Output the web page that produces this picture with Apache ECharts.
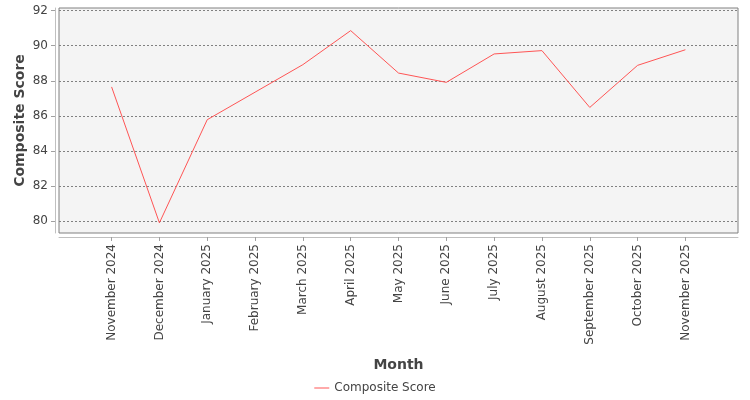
<!DOCTYPE html>
<html>
<head>
<meta charset="utf-8">
<script src="https://cdn.jsdelivr.net/npm/echarts@6/dist/echarts.min.js"></script>
<style>html,body{margin:0;padding:0;background:#fff;}#c{width:750px;height:400px;}</style>
</head>
<body>
<div id="c"></div>
<script>
const months = ["November 2024","December 2024","January 2025","February 2025","March 2025","April 2025","May 2025","June 2025","July 2025","August 2025","September 2025","October 2025","November 2025"];
const scores = [87.65, 79.9, 85.78, 87.35, 88.92, 90.86, 88.44, 87.91, 89.53, 89.72, 86.48, 88.88, 89.77];
const yTicks = [80, 82, 84, 86, 88, 90, 92];
const seriesName = "Composite Score";

const idx = months.map((m, i) => i);
const chart = echarts.init(document.getElementById('c'), null, {renderer: 'canvas'});
const font = 'DejaVu Sans';
chart.setOption({
  animation: false,
  backgroundColor: '#ffffff',
  textStyle: {fontFamily: font},
  grid: {left: 59, right: 12, top: 8, bottom: 167, show: true, backgroundColor: '#f4f4f4', borderColor: '#808080', borderWidth: 1},
  legend: {
    bottom: 1, left: 'center', itemWidth: 15, itemHeight: 10, itemGap: 10,
    textStyle: {fontFamily: font, fontSize: 12, color: '#444'},
    data: [{name: seriesName, icon: 'path://M0,5 L15,5 L15,6 L0,6 Z'}]
  },
  xAxis: {
    type: 'value', min: -1.1, max: 13.1,
    offset: 4,
    name: 'Month', nameLocation: 'middle', nameGap: 121, nameMoveOverlap: false,
    nameTextStyle: {fontFamily: font, fontSize: 14, fontWeight: 'bold', color: '#444'},
    axisLine: {show: true, onZero: false, lineStyle: {color: '#c0c0c0'}},
    axisTick: {show: true, length: 4, lineStyle: {color: '#a0a0a0'}, customValues: idx},
    axisLabel: {rotate: 90, margin: 7, fontSize: 12, color: '#444', fontFamily: font,
      customValues: idx, formatter: v => months[Math.round(v)] || ''},
    splitLine: {show: false}
  },
  yAxis: {
    type: 'value', min: 79.32, max: 92.15, splitNumber: 6,
    offset: 4,
    name: 'Composite Score', nameLocation: 'middle', nameGap: 28, nameMoveOverlap: false,
    nameTextStyle: {fontFamily: font, fontSize: 14, fontWeight: 'bold', color: '#444'},
    axisLine: {show: true, onZero: false, lineStyle: {color: '#c0c0c0'}},
    axisTick: {show: true, length: 4, lineStyle: {color: '#a0a0a0'}, customValues: yTicks},
    axisLabel: {margin: 7, fontSize: 12, color: '#444', fontFamily: font, customValues: yTicks},
    splitLine: {show: true, lineStyle: {color: '#808080', type: [2, 2], width: 1}}
  },
  series: [{
    name: seriesName, type: 'line', symbol: 'none',
    lineStyle: {color: '#ff5555', width: 1},
    itemStyle: {color: '#ff5555'},
    data: scores.map((v, i) => [idx[i], v])
  }]
});
</script>
</body>
</html>
